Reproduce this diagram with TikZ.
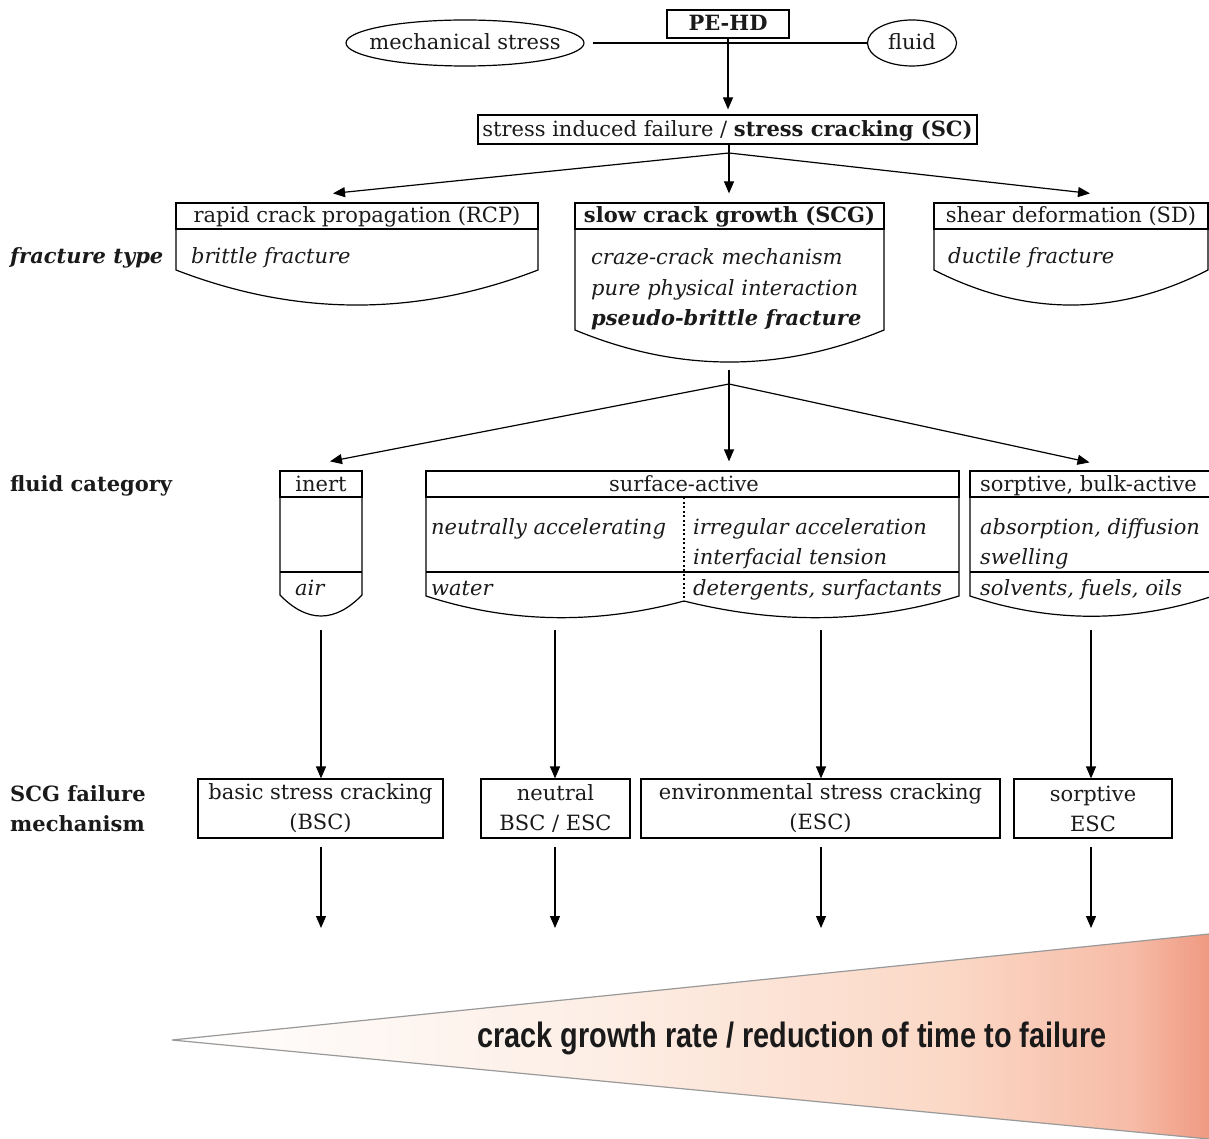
\documentclass[tikz,border=0pt]{standalone}
\usepackage{fontspec}
\usepackage{graphicx}
\setmainfont{DejaVu Serif}
\newfontfamily\wedgefont{Liberation Sans}
\usetikzlibrary{arrows.meta,shapes.geometric}
\definecolor{txt}{RGB}{26,26,26}
\definecolor{wA}{RGB}{253,238,229}
\definecolor{wB}{RGB}{251,216,198}
\definecolor{wC}{RGB}{246,188,167}
\definecolor{wD}{RGB}{239,152,128}
\newcommand{\fs}{\fontsize{21}{25}\selectfont}
\begin{document}
\begin{tikzpicture}[x=1pt,y=-1pt,
  every node/.append style={text=txt},
  ln/.style={line width=1.2pt, draw=black},
  arr/.style={line width=1.2pt, draw=black, -{Triangle[length=12pt,width=10pt]}},
  t/.style={inner sep=0pt, text height=17pt, text depth=3pt, font=\fs},
  lt/.style={t, anchor=west},
  box/.style={draw, line width=1.2pt, inner sep=0pt, text height=17pt, text depth=3pt, font=\fs},
  mbox/.style={draw, line width=1.2pt, inner sep=0pt, minimum height=59pt, align=center, font=\fontsize{21}{30}\selectfont},
  oval/.style={draw, ellipse, line width=1.2pt, inner sep=0pt},
]
\useasboundingbox (0,0) rectangle (1209,1139);
\clip (0,0) rectangle (1209,1139);

% ---------- top ----------
\node[box, minimum width=122pt, minimum height=28pt, font=\fs\bfseries] (pehd) at (728,24) {PE-HD};
\node[oval, minimum width=238pt, minimum height=46pt] (mech) at (465,43) {};
\node[t] (mecht) at (mech.center) {mechanical stress};
\node[oval, minimum width=89pt, minimum height=46pt] (fluid) at (912,43) {};
\node[t] (fluidt) at (fluid.center) {fluid};
\draw[ln] ([xshift=8pt]mech.east) -- (fluid.west);

\node[box, minimum width=499pt, minimum height=29pt] (sc) at (727.5,129.5) {stress induced failure / \textbf{stress cracking (SC)}};
\draw[arr, shorten >=5pt] (pehd.south) -- (pehd.south |- sc.north);

% ---------- fracture type ----------
\node[box, minimum width=362pt, minimum height=26pt] (rcp) at (357,216) {rapid crack propagation (RCP)};
\node[box, minimum width=309pt, minimum height=26pt, font=\fs\bfseries] (scg) at (729.5,216) {slow crack growth (SCG)};
\node[box, minimum width=274pt, minimum height=26pt] (sd) at (1071,216) {shear deformation (SD)};

\draw[ln] (176,229) -- (176,270) .. controls (296.7,316.7) and (417.3,316.7) .. (538,270) -- (538,229);
\draw[ln] (575,229) -- (575,330) .. controls (678,372.7) and (781,372.7) .. (884,330) -- (884,229);
\draw[ln] (934,229) -- (934,270) .. controls (1025.3,316.7) and (1116.7,316.7) .. (1208,270) -- (1208,229);

\node[lt, font=\fs\itshape] (rcp1) at (191,257) {brittle fracture};
\node[lt, font=\fs\itshape] (scg1) at (591,258) {craze-crack mechanism};
\node[lt, font=\fs\itshape] (scg2) at (591,289) {pure physical interaction};
\node[lt, font=\fs\bfseries\itshape] (scg3) at (591,318) {pseudo-brittle fracture};
\node[lt, font=\fs\itshape] (sd1) at (948,257) {ductile fracture};

\coordinate (j1) at (729,153);
\draw[arr, shorten >=9pt] (j1 |- sc.south) -- (j1 |- scg.north);
\draw[arr] (j1) -- ([shift={(-24,-9)}]rcp.north);
\draw[arr] (j1) -- ([shift={(19,-9)}]sd.north);

% ---------- fluid category ----------
\node[box, minimum width=82pt, minimum height=26pt] (inert) at (321,484) {inert};
\node[box, minimum width=533pt, minimum height=26pt] (surf) at (692.5,484) {};
\node[t] (surft) at (684,484) {surface-active};
\node[box, minimum width=243pt, minimum height=26pt] (sorp) at (1091.5,484) {};
\node[lt] (sorpt) at (980,484) {sorptive, bulk-active};

\draw[ln] (280,497) -- (280,595) .. controls (307,623) and (335,623) .. (362,595) -- (362,497);
\draw[ln] (280,572) -- (362,572);
\draw[ln] (426,497) -- (426,596) .. controls (512,624) and (598,624) .. (684,601) .. controls (776,624) and (868,624) .. (959,596) -- (959,497);
\draw[ln] (426,572) -- (959,572);
\draw[line width=1.2pt, dash pattern=on 2pt off 2.5pt] (684,497) -- (684,601);
\draw[ln] (970,497) -- (970,596) .. controls (1051,623) and (1132,623) .. (1213,596) -- (1213,497);
\draw[ln] (970,572) -- (1213,572);

\node[lt, font=\fs\itshape] (air) at (295,588) {air};
\node[lt, font=\fs\itshape] (na) at (431,527) {neutrally accelerating};
\node[lt, font=\fs\itshape] (ia) at (693,527) {irregular acceleration};
\node[lt, font=\fs\itshape] (it) at (693,557) {interfacial tension};
\node[lt, font=\fs\itshape] (wat) at (431,588) {water};
\node[lt, font=\fs\itshape] (det) at (693,588) {detergents, surfactants};
\node[lt, font=\fs\itshape] (abs) at (980,527) {absorption, diffusion};
\node[lt, font=\fs\itshape] (swe) at (980,557) {swelling};
\node[lt, font=\fs\itshape] (sol) at (980,588) {solvents, fuels, oils};

\coordinate (scgb) at (729,362);
\coordinate (j2) at (729,384);
\draw[ln] ([shift={(0,8)}]scgb) -- (j2);
\draw[arr] (j2) -- ([shift={(9,-9)}]inert.north);
\draw[arr, shorten >=9pt] (j2) -- (j2 |- surf.north);
\draw[arr] (j2) -- ([shift={(-2,-8)}]sorp.north);

% ---------- failure mechanism ----------
\node[mbox, minimum width=245pt] (bsc) at (320.5,808.5) {basic stress cracking\\(BSC)};
\node[mbox, minimum width=149pt] (neu) at (555.5,808.5) {neutral\\BSC / ESC};
\node[mbox, minimum width=359pt] (esc) at (820.5,808.5) {environmental stress cracking\\(ESC)};
\node[mbox, minimum width=158pt] (sesc) at (1093,808.5) {sorptive\\ESC};

\coordinate (inertb) at (321,616);
\coordinate (surfl) at (555,616);
\coordinate (surfr) at (821,616);
\coordinate (sorpb) at (1091,616);
\draw[arr, shorten <=14pt] (inertb) -- (inertb |- bsc.north);
\draw[arr, shorten <=14pt] (surfl) -- (surfl |- neu.north);
\draw[arr, shorten <=14pt] (surfr) -- (surfr |- esc.north);
\draw[arr, shorten <=14pt] (sorpb) -- (sorpb |- sesc.north);

\coordinate (e1) at (321,928);
\coordinate (e2) at (555,928);
\coordinate (e3) at (821,928);
\coordinate (e4) at (1091,928);
\draw[arr, shorten <=8pt] (bsc.south -| e1) -- (e1);
\draw[arr, shorten <=8pt] (neu.south -| e2) -- (e2);
\draw[arr, shorten <=8pt] (esc.south -| e3) -- (e3);
\draw[arr, shorten <=8pt] (sesc.south -| e4) -- (e4);

% ---------- left labels ----------
\node[lt, font=\fs\bfseries\itshape] (lft) at (10,257) {fracture type};
\node[lt, font=\fs\bfseries] (lfc) at (10,484) {fluid category};
\node[anchor=west, align=left, inner sep=0pt, font=\fontsize{21}{30}\selectfont\bfseries] (lsm) at (10,809) {SCG failure\\mechanism};

% ---------- wedge ----------
\coordinate (wt) at (172,1040);
\coordinate (wa) at (1209,934);
\coordinate (wb) at (1209,1139);
\begin{scope}
  \clip (wt) -- (wa) -- (wb) -- cycle;
  \shade[left color=white, right color=wA] (170,930) rectangle (600.5,1140);
  \shade[left color=wA, right color=wB] (600,930) rectangle (950.5,1140);
  \shade[left color=wB, right color=wC] (950,930) rectangle (1130.5,1140);
  \shade[left color=wC, right color=wD] (1130,930) rectangle (1212,1140);
\end{scope}
\draw[line width=1.2pt, draw=gray!80] (wa) -- (wt) -- (wb);
\node[inner sep=0pt, font=\wedgefont\bfseries\fontsize{26}{30}\selectfont] (wl) at (792,1038) {\resizebox{629pt}{!}{\scalebox{1}[1.22]{crack growth rate / reduction of time to failure}}};
\end{tikzpicture}
\end{document}
